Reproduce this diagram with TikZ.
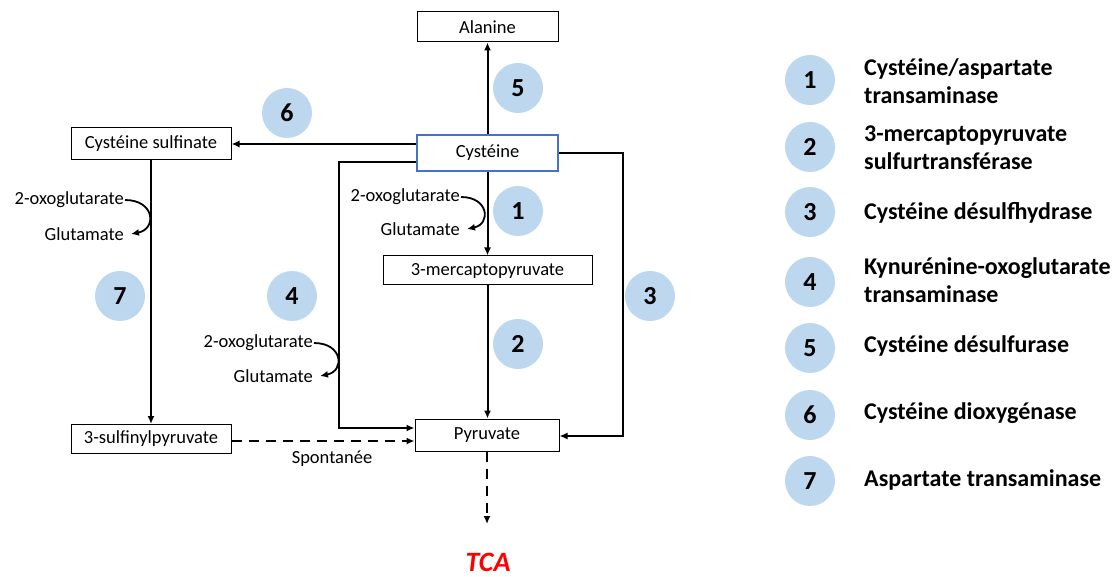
\documentclass[tikz,border=0pt]{standalone}
\usepackage{fontspec}
\setmainfont{Carlito}
\usetikzlibrary{arrows.meta}
\definecolor{circblue}{HTML}{BDD7EE}
\definecolor{boxblue}{HTML}{4472C4}
\definecolor{tcared}{HTML}{FF0000}
\begin{document}
\begin{tikzpicture}[x=1pt,y=-1pt,
  box/.style={draw,line width=1pt,inner sep=0pt,font=\fontsize{18.5}{20}\selectfont},
  lbl/.style={inner sep=1pt,font=\fontsize{18.5}{20}\selectfont},
  num/.style={circle,fill=circblue,minimum size=50pt,inner sep=0pt,font=\fontsize{26}{28}\bfseries},
  leg/.style={anchor=west,align=left,inner sep=0pt,font=\fontsize{24}{28}\bfseries},
  arr/.style={line width=2pt,-{Latex[length=8pt,width=7pt]}},
  dasharr/.style={line width=2pt,dash pattern=on 10pt off 7pt,-{Latex[length=8pt,width=7pt]}},
  plain/.style={line width=2pt}]
\useasboundingbox (0,0) rectangle (1119,577);
% boxes
\node[box,minimum width=141pt,minimum height=30pt] (ala) at (487.5,27) {Alanine};
\node[box,draw=boxblue,line width=2pt,minimum width=141pt,minimum height=36pt] (cys) at (487.5,153) {Cystéine};
\node[box,minimum width=209pt,minimum height=29pt] (mpy) at (487.5,270.5) {3-mercaptopyruvate};
\node[box,minimum width=144pt,minimum height=32pt] (pyr) at (487,435) {Pyruvate};
\node[box,minimum width=160pt,minimum height=32pt] (cyss) at (151,144) {Cystéine sulfinate};
\node[box,minimum width=160pt,minimum height=29pt] (sfp) at (151,439) {3-sulfinylpyruvate};
\node[inner sep=0pt,text=tcared,font=\fontsize{28}{30}\bfseries\itshape] (tca) at (488,562) {TCA};
\coordinate (tcaend) at (487,524);
% main arrows
\draw[arr] (cys.north) -- (ala.south);
\draw[arr] (cys.south) -- (mpy.north);
\draw[arr] (mpy.south) -- ([xshift=0.5pt]pyr.north);
\draw[arr] ([yshift=9pt]cys.west) -- (cyss.east);
\draw[arr] ([yshift=-9pt]cys.west) -- ++(-77,0) |- ([yshift=7pt]pyr.west);
\draw[arr] (cys.east) -- ++(64,0) |- ([yshift=-1pt]pyr.east);
\draw[arr] (cyss.south) -- (sfp.north);
\draw[dasharr] ([yshift=-2pt]sfp.east) -- ([yshift=-6pt]pyr.west);
\draw[dasharr] (pyr.south) -- (tcaend);
\node[lbl] (spont) at (332,459) {Spontanée};
% co-substrates
\node[lbl,anchor=east] (ox1) at (461,197) {2-oxoglutarate};
\node[lbl,anchor=east] (glu1) at (461,229) {Glutamate};
\draw[arr,line width=1.8pt] (ox1.east) .. controls +(28,0) and +(24,-5) .. ([xshift=6pt]glu1.east);
\node[lbl,anchor=east] (ox7) at (125,200) {2-oxoglutarate};
\node[lbl,anchor=east] (glu7) at (125,234) {Glutamate};
\draw[arr,line width=1.8pt] (ox7.east) .. controls +(30,0) and +(26,-5) .. ([xshift=6pt]glu7.east);
\node[lbl,anchor=east] (ox4) at (314,343) {2-oxoglutarate};
\node[lbl,anchor=east] (glu4) at (314,376) {Glutamate};
\draw[arr,line width=1.8pt] (ox4.east) .. controls +(29,0) and +(25,-5) .. ([xshift=6pt]glu4.east);
% reaction numbers
\node[num] (n5) at (518,88) {5};
\node[num] (n6) at (287,113) {6};
\node[num] (n1) at (518,211) {1};
\node[num] (n7) at (120,296) {7};
\node[num] (n4) at (292,296) {4};
\node[num] (n3) at (650,296) {3};
\node[num] (n2) at (518,344) {2};
% legend
\node[num] (l1) at (810,80) {1};
\node[num] (l2) at (810,147) {2};
\node[num] (l3) at (810,212) {3};
\node[num] (l4) at (810,282) {4};
\node[num] (l5) at (810,348) {5};
\node[num] (l6) at (810,415) {6};
\node[num] (l7) at (810,481) {7};
\node[leg] (t1) at (864,81) {Cystéine/aspartate\\transaminase};
\node[leg] (t2) at (864,148) {3-mercaptopyruvate\\sulfurtransférase};
\node[leg] (t3) at (864,213) {Cystéine désulfhydrase};
\node[leg] (t4) at (864,280) {Kynurénine-oxoglutarate\\transaminase};
\node[leg] (t5) at (864,346) {Cystéine désulfurase};
\node[leg] (t6) at (864,413) {Cystéine dioxygénase};
\node[leg] (t7) at (864,480) {Aspartate transaminase};
\end{tikzpicture}
\end{document}
